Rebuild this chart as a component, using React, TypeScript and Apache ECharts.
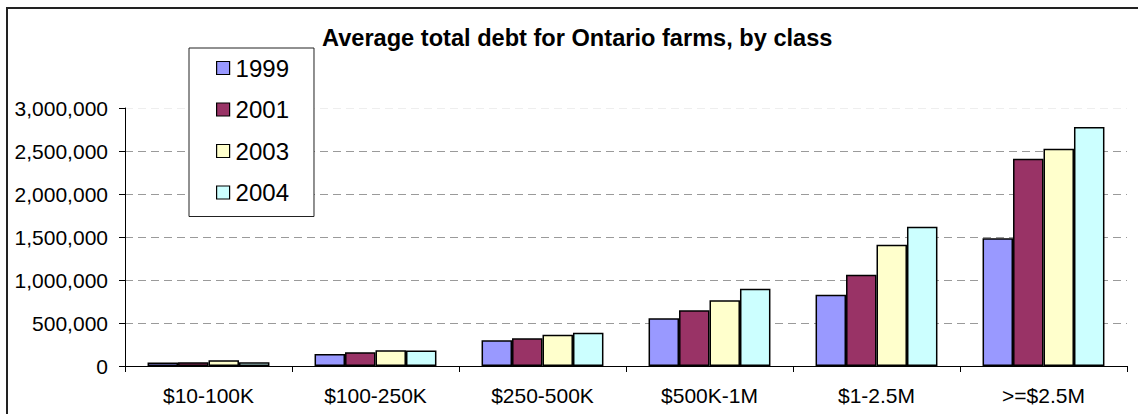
import React, { useEffect, useRef } from "react";
import * as echarts from "echarts";

const categories = ["$10-100K", "$100-250K", "$250-500K", "$500K-1M", "$1-2.5M", ">=$2.5M"];
const years = ["1999", "2001", "2003", "2004"];
const debt1999 = [42000, 140000, 299000, 554000, 829000, 1485000];
const debt2001 = [44000, 160000, 322000, 647000, 1062000, 2411000];
const debt2003 = [66000, 183000, 364000, 764000, 1411000, 2527000];
const debt2004 = [45000, 180000, 387000, 899000, 1620000, 2779000];
const colors = ["#9999FF", "#993366", "#FFFFCC", "#CCFFFF"];
const yTicks = [0, 500000, 1000000, 1500000, 2000000, 2500000, 3000000];

const FONT = "'Liberation Sans', Arial, sans-serif";

export default function App() {
  const ref = useRef<HTMLDivElement>(null);
  useEffect(() => {
    if (!ref.current) return;
    const chart = echarts.init(ref.current, null, { renderer: "svg" });
    const seriesData = [debt1999, debt2001, debt2003, debt2004];
    chart.setOption({
      animation: false,
      backgroundColor: "#fff",
      textStyle: { fontFamily: FONT },
      title: {
        text: "Average total debt for Ontario farms, by class",
        left: 322,
        top: 26,
        padding: 0,
        textStyle: { fontFamily: FONT, fontSize: 23.6, fontWeight: "bold", color: "#000" },
      },
      graphic: [
        {
          type: "rect",
          shape: { x: 7, y: 8, width: 1160, height: 440 },
          style: { fill: "none", stroke: "#222", lineWidth: 2 },
          silent: true,
          z: 100,
        },
      ],
      legend: {
        orient: "vertical",
        left: 189,
        top: 48,
        padding: [8, 25, 12, 27],
        backgroundColor: "#fff",
        borderColor: "#222",
        borderWidth: 1,
        itemWidth: 13,
        itemHeight: 13,
        itemGap: 17.5,
        icon: "rect",
        data: years,
        itemStyle: { borderColor: "#000", borderWidth: 1.2 },
        textStyle: { fontFamily: FONT, fontSize: 24, color: "#000", lineHeight: 24, padding: [0, 0, 0, 1] },
        z: 10,
      },
      grid: { left: 125, right: 11, top: 108, bottom: 48, containLabel: false },
      xAxis: {
        type: "category",
        data: categories,
        axisLine: { show: true, lineStyle: { color: "#000", width: 1 } },
        axisTick: { show: true, length: 6, lineStyle: { color: "#000" } },
        axisLabel: { fontFamily: FONT, fontSize: 21, color: "#000", margin: 19 },
      },
      yAxis: {
        type: "value",
        min: 0,
        max: 3000000,
        interval: 500000,
        axisLine: { show: true, lineStyle: { color: "#000", width: 1 } },
        axisTick: { show: true, length: 6, lineStyle: { color: "#000" } },
        axisLabel: {
          fontFamily: FONT,
          fontSize: 21,
          color: "#000",
          margin: 17,
          formatter: (v: number) => v.toLocaleString("en-US"),
        },
        splitLine: {
          show: true,
          lineStyle: {
            color: yTicks.map((t) => (t === 3000000 ? "#eeeeee" : "#9a9a9a")),
            type: [8, 5],
            width: 1,
          },
        },
      },
      series: years.map((y, i) => ({
        name: y,
        type: "bar",
        data: seriesData[i],
        barGap: "0%",
        barCategoryGap: "27%",
        itemStyle: { color: colors[i], borderColor: "#000", borderWidth: 1.5 },
      })),
    });
    return () => chart.dispose();
  }, []);
  return <div ref={ref} style={{ position: "fixed", left: 0, top: 0, width: 1138, height: 414 }} />;
}
